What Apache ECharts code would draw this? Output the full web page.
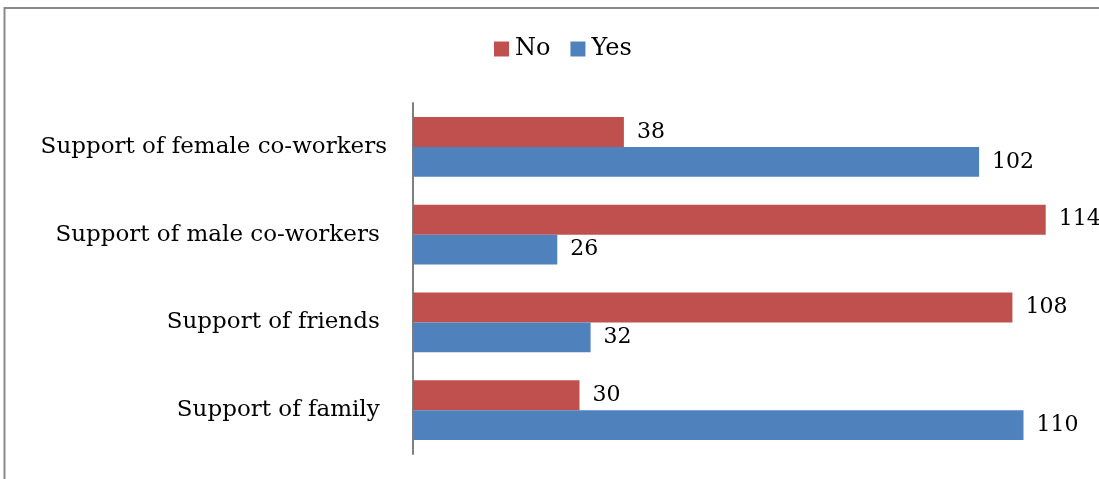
<!DOCTYPE html>
<html><head><meta charset="utf-8">
<script src="https://cdn.jsdelivr.net/npm/echarts@6/dist/echarts.min.js"></script>
<style>html,body{margin:0;padding:0;background:#fff}#c{width:1099px;height:479px}</style>
</head><body><div id="c"></div>
<script>
const categories = ['Support of female co-workers', 'Support of male co-workers ', 'Support of friends ', 'Support of family '];
const noValues = [38, 114, 108, 30];
const yesValues = [102, 26, 32, 110];
const seriesNames = ['No', 'Yes'];

const FONT = 'DejaVu Serif';
const FS = 23;
const chart = echarts.init(document.getElementById('c'), null, {renderer: 'canvas'});
chart.setOption({
  backgroundColor: '#fff',
  animation: false,
  graphic: [{
    type: 'polyline',
    shape: {points: [[4.5, 479], [4.5, 8], [1099, 8]]},
    style: {stroke: '#898989', lineWidth: 2, fill: null}
  }],
  legend: {
    data: seriesNames,
    top: 32,
    left: 489,
    itemWidth: 15, itemHeight: 15, itemGap: 20,
    icon: 'rect',
    textStyle: {fontFamily: FONT, fontSize: 24, color: '#000', padding: [0, 0, 0, 1]}
  },
  grid: {left: 413, right: 20, top: 103, bottom: 25, containLabel: false},
  xAxis: {
    type: 'value', min: 0, max: 120, show: false
  },
  yAxis: {
    type: 'category', inverse: true, data: categories,
    axisLine: {show: true, lineStyle: {color: '#808080', width: 2}},
    axisTick: {show: false},
    axisLabel: {fontFamily: FONT, fontSize: FS, color: '#000', margin: 26}
  },
  series: [
    {name: 'No', type: 'bar', data: noValues, barGap: '0%', barCategoryGap: '32%',
     itemStyle: {color: '#C0504D'},
     label: {show: true, position: 'right', distance: 13, fontFamily: FONT, fontSize: 22, color: '#000'}},
    {name: 'Yes', type: 'bar', data: yesValues, barGap: '0%', barCategoryGap: '32%',
     itemStyle: {color: '#4F81BD'},
     label: {show: true, position: 'right', distance: 13, fontFamily: FONT, fontSize: 22, color: '#000'}}
  ]
});
</script></body></html>
